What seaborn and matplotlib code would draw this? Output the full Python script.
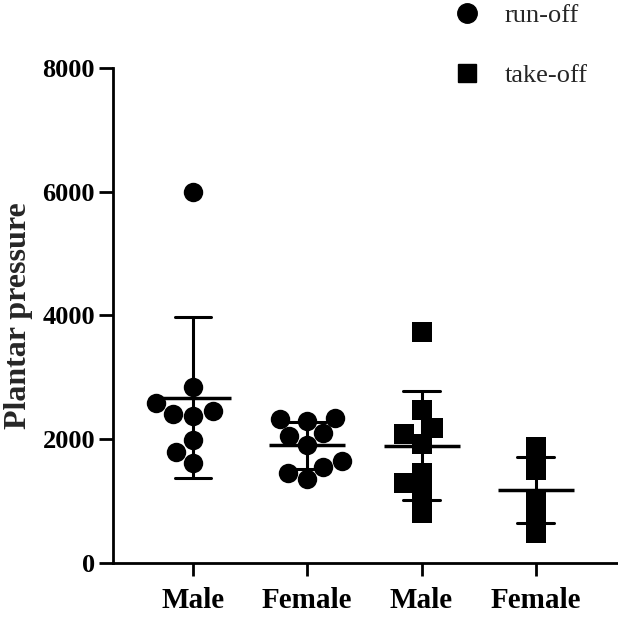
import matplotlib
matplotlib.use("Agg")
import matplotlib.pyplot as plt
from matplotlib.lines import Line2D
import pandas as pd
import seaborn as sns

# group keys (unique) and the labels shown under the axis
groups = ["Male run-off", "Female run-off", "Male take-off", "Female take-off"]
tick_labels = ["Male", "Female", "Male", "Female"]

# plantar pressure values
male_runoff = [6000, 2850, 2580, 2400, 2380, 2450, 1980, 1800, 1620]
female_runoff = [2300, 2350, 2330, 2100, 2050, 1900, 1650, 1550, 1450, 1350]
male_takeoff = [3730, 2480, 2180, 2080, 1920, 1450, 1300, 1130, 800]
female_takeoff = [1870, 1780, 1650, 1500, 1020, 900, 780, 620, 480]

y_ticks = [0, 2000, 4000, 6000, 8000]


def build_frame():
    rows = []
    for g, vals, phase in zip(groups,
                              [male_runoff, female_runoff, male_takeoff, female_takeoff],
                              ["run-off", "run-off", "take-off", "take-off"]):
        for v in vals:
            rows.append({"group": g, "value": v, "phase": phase})
    return pd.DataFrame(rows)


def main():
    df = build_frame()

    sns.set_style("ticks")
    plt.rcParams["font.family"] = ["Liberation Serif", "DejaVu Serif"]

    fig = plt.figure(figsize=(6.18, 6.17), dpi=100)
    ax = fig.add_axes([0.183, 0.0875, 0.817, 0.8025])

    # individual points
    sns.swarmplot(data=df[df.phase == "run-off"], x="group", y="value", order=groups,
                  marker="o", size=14, color="black", linewidth=0, ax=ax)
    sns.swarmplot(data=df[df.group == "Male take-off"], x="group", y="value", order=groups,
                  marker="s", size=14, color="black", linewidth=0, ax=ax)
    sns.stripplot(data=df[df.group == "Female take-off"], x="group", y="value", order=groups,
                  marker="s", size=14, color="black", linewidth=0, jitter=False, ax=ax)

    # mean +/- SD
    sns.pointplot(data=df, x="group", y="value", order=groups, errorbar="sd",
                  capsize=0.32, linestyle="none", marker="_", markersize=55,
                  markeredgewidth=2.5, color="black", err_kws={"linewidth": 2.2}, ax=ax)

    ax.set_ylim(0, 8000)
    ax.set_xlim(-0.7, 3.72)
    ax.set_yticks(y_ticks)
    ax.set_yticklabels([str(t) for t in y_ticks], fontsize=19, fontweight="bold")
    ax.set_xticks(range(len(groups)))
    ax.set_xticklabels(tick_labels, fontsize=21, fontweight="bold")
    ax.set_xlabel("")
    ax.set_ylabel("Plantar pressure", fontsize=23, fontweight="bold")
    ax.yaxis.set_label_coords(-0.158, 0.5)

    sns.despine(ax=ax)
    for side in ["left", "bottom"]:
        ax.spines[side].set_linewidth(2)
        ax.spines[side].set_color("black")
    ax.tick_params(axis="y", length=10, width=2, pad=3, colors="black")
    ax.tick_params(axis="x", length=9, width=2, pad=8, colors="black")

    handles = [
        Line2D([], [], marker="o", linestyle="none", color="black", markersize=14),
        Line2D([], [], marker="s", linestyle="none", color="black", markersize=13),
    ]
    fig.legend(handles, ["run-off", "take-off"], loc="upper left",
               bbox_to_anchor=(0.675, 1.033), frameon=False, fontsize=19,
               labelspacing=1.4, handletextpad=0.4)

    fig.savefig("out.png", dpi=100)
    plt.close(fig)


if __name__ == "__main__":
    main()
